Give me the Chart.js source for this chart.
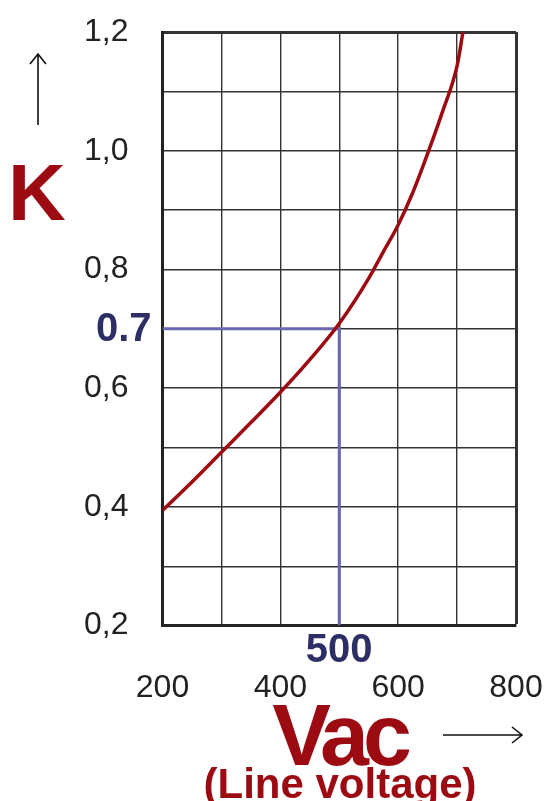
<!DOCTYPE html>
<html>
<head>
<meta charset="utf-8">
<script src="https://cdn.jsdelivr.net/npm/chart.js@4/dist/chart.umd.min.js"></script>
<style>
  html, body { margin: 0; padding: 0; background: #fff; }
  #wrap { width: 544px; height: 801px; }
</style>
</head>
<body>
<div id="wrap"><canvas id="kChart"></canvas></div>
<script>
// K factor vs line voltage
const voltage = [200, 250, 300, 350, 400, 450, 500, 550, 575, 600, 625, 650, 675, 700, 710];
const kValue  = [0.394, 0.442, 0.492, 0.542, 0.593, 0.648, 0.709, 0.785, 0.83, 0.875, 0.93, 0.995, 1.065, 1.143, 1.2];

// example reading: 500 V -> 0.7
const markVoltage = 500;
const markK = 0.7;

const xLabels = [200, 400, 600, 800];
const yLabels = [0.2, 0.4, 0.6, 0.8, 1.0, 1.2];

const red = "#9c0a12";
const navy = "#2e2e66";
const blue = "#6868b4";

const extraText = {
  id: "extraText",
  afterDraw(chart) {
    const c = chart.ctx;
    const xs = chart.scales.x, ys = chart.scales.y;
    c.save();

    // reading labels
    c.fillStyle = navy;
    c.font = "bold 40px 'Liberation Sans', Arial, sans-serif";
    c.textAlign = "right";
    c.textBaseline = "middle";
    c.fillText("0.7", chart.chartArea.left - 11, ys.getPixelForValue(markK) + 1);
    c.textAlign = "center";
    c.fillText("500", xs.getPixelForValue(markVoltage), 651);

    // axis names
    c.fillStyle = red;
    c.textAlign = "left";
    c.textBaseline = "alphabetic";
    c.font = "bold 80px 'Liberation Sans', Arial, sans-serif";
    c.fillText("K", 8, 220);

    c.textAlign = "center";
    c.font = "bold 88px 'Liberation Sans', Arial, sans-serif";
    c.letterSpacing = "-6px";
    c.fillText("Vac", 339, 765);
    c.letterSpacing = "0px";
    c.font = "bold 42px 'Liberation Sans', Arial, sans-serif";
    c.fillText("(Line voltage)", 340, 798);

    // arrows
    c.strokeStyle = "#111";
    c.lineWidth = 1.6;
    c.beginPath();
    c.moveTo(38, 125); c.lineTo(38, 54);
    c.moveTo(30, 64); c.lineTo(38, 54); c.lineTo(46, 64);
    c.moveTo(443, 735); c.lineTo(522, 735);
    c.moveTo(512, 727); c.lineTo(522, 735); c.lineTo(512, 743);
    c.stroke();

    c.restore();
  }
};

new Chart(document.getElementById("kChart"), {
  type: "line",
  data: {
    datasets: [
      {
        label: "K",
        data: voltage.map((v, i) => ({ x: v, y: kValue[i] })),
        borderColor: red,
        borderWidth: 3.5,
        pointRadius: 0,
        cubicInterpolationMode: "monotone",
        order: 0
      },
      {
        label: "reading",
        data: [
          { x: 200, y: markK },
          { x: markVoltage, y: markK },
          { x: markVoltage, y: 0.2 }
        ],
        borderColor: blue,
        borderWidth: 3,
        pointRadius: 0,
        tension: 0,
        order: 1
      }
    ]
  },
  options: {
    responsive: true,
    maintainAspectRatio: false,
    animation: false,
    layout: { padding: { left: 84, right: 28, top: 32, bottom: 94 } },
    plugins: {
      legend: { display: false },
      tooltip: { enabled: false }
    },
    scales: {
      x: {
        type: "linear",
        min: 200,
        max: 800,
        grid: {
          color: "#333",
          lineWidth: ctx => (ctx.tick && ctx.tick.value === 800 ? 3 : 1.4),
          drawTicks: true,
          tickLength: 43,
          tickColor: "rgba(0,0,0,0)"
        },
        border: { display: true, color: "#222", width: 3 },
        ticks: {
          stepSize: 100,
          padding: 0,
          maxRotation: 0,
          minRotation: 0,
          autoSkip: false,
          color: "#222",
          font: { size: 32, family: "'Liberation Sans', Arial, sans-serif" },
          callback: v => (xLabels.includes(v) ? String(v) : "")
        }
      },
      y: {
        min: 0.2,
        max: 1.2,
        grid: {
          color: "#333",
          lineWidth: ctx => (ctx.tick && Math.abs(ctx.tick.value - 1.2) < 1e-6 ? 3 : 1.4),
          drawTicks: true,
          tickLength: 34,
          tickColor: "rgba(0,0,0,0)"
        },
        border: { display: true, color: "#222", width: 3 },
        ticks: {
          stepSize: 0.1,
          padding: 0,
          autoSkip: false,
          color: "#222",
          font: { size: 32, family: "'Liberation Sans', Arial, sans-serif" },
          callback: v => {
            const hit = yLabels.find(l => Math.abs(l - v) < 1e-6);
            return hit !== undefined ? hit.toFixed(1).replace(".", ",") : "";
          }
        }
      }
    }
  },
  plugins: [extraText]
});
</script>
</body>
</html>
